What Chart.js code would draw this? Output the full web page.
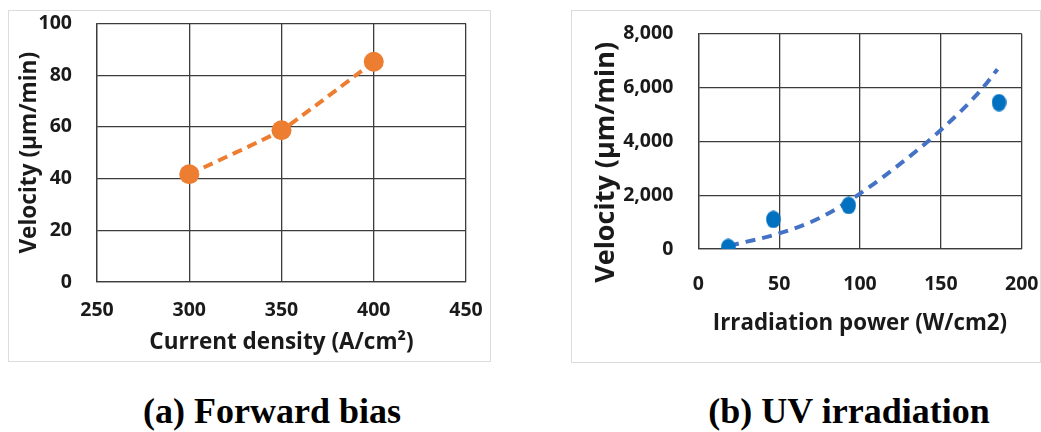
<!DOCTYPE html>
<html>
<head>
<meta charset="utf-8">
<script src="https://cdn.jsdelivr.net/npm/chart.js@4"></script>
<style>
body { margin:0; width:1041px; height:432px; background:#fff; position:relative; overflow:hidden; }
.box { position:absolute; border:1px solid #dcdcdc; box-sizing:border-box; }
.wrap { position:absolute; }
.cap { position:absolute; width:400px; text-align:center; font:bold 36px "Liberation Serif","Times New Roman",serif; line-height:36px; color:#000; }
</style>
</head>
<body>
<div class="box" style="left:8px;top:10px;width:483px;height:352px"></div>
<div class="box" style="left:571px;top:10px;width:470px;height:353px"></div>
<div class="wrap" style="left:0;top:0;width:520px;height:370px"><canvas id="chartA"></canvas></div>
<div class="wrap" style="left:560px;top:0;width:481px;height:370px"><canvas id="chartB"></canvas></div>
<div class="cap" style="left:72px;top:393px">(a) Forward bias</div>
<div class="cap" style="left:649px;top:393px">(b) UV irradiation</div>
<script>
// (a) forward bias
var currentDensity = [300, 350, 400];
var velocityA = [41.7, 58.7, 85.2];
var xTicksA = [250, 300, 350, 400, 450];
var yTicksA = [0, 20, 40, 60, 80, 100];

// (b) UV irradiation
var irradiationPower = [18.5, 46.4, 93, 186];
var velocityB = [60, 1100, 1620, 5440];
// trendline
var trendPower = [19, 50, 75, 100, 125, 150, 175, 185];
var trendVelocity = [120, 580, 1150, 2060, 3170, 4420, 5920, 6680];
var xTicksB = [0, 50, 100, 150, 200];
var yTicksB = [0, 2000, 4000, 6000, 8000];

var gridColor = '#3c3c3c';
var textColor = '#1a1a1a';
var fam = '"Open Sans", sans-serif';

function toXY(xs, ys) {
    return xs.map(function(x, i) { return {x: x, y: ys[i]}; });
}

function axis(ticks, opts) {
    return {
        type: 'linear',
        min: ticks[0],
        max: ticks[ticks.length - 1],
        afterBuildTicks: function(a) { a.ticks = ticks.map(function(v) { return {value: v}; }); },
        afterFit: function(a) {
            // fixed axis sizes so the plot box lands where it should
            if (a.isHorizontal()) a.height = opts.size; else a.width = opts.size;
            a.paddingLeft = a.paddingRight = a.paddingTop = a.paddingBottom = 0;
        },
        grid: { color: gridColor, lineWidth: 1.3, drawTicks: false },
        border: { display: true, color: gridColor, width: 1.3 },
        ticks: {
            color: textColor,
            padding: opts.pad,
            font: { family: fam, weight: 'bold', size: 19.5 },
            callback: function(v) { return opts.comma ? v.toLocaleString('en-US') : v; }
        },
        title: {
            display: true,
            text: opts.title,
            color: textColor,
            padding: opts.titlePad,
            font: { family: fam, weight: 'bold', size: opts.titleSize }
        }
    };
}

// slightly tall ellipse marker for chart (b)
var dot = document.createElement('canvas');
dot.width = 15; dot.height = 18;
var dctx = dot.getContext('2d');
dctx.fillStyle = '#0070c0';
dctx.beginPath();
dctx.ellipse(7.5, 9, 7.3, 8.8, 0, 0, Math.PI * 2);
dctx.fill();

new Chart(document.getElementById('chartA'), {
    type: 'scatter',
    data: {
        datasets: [{
            data: toXY(currentDensity, velocityA),
            showLine: true,
            borderColor: '#ed7d31',
            borderWidth: 4,
            borderDash: [10, 6],
            tension: 0.12,
            backgroundColor: '#ed7d31',
            pointRadius: 10,
            pointBorderWidth: 0
        }]
    },
    options: {
        responsive: true,
        maintainAspectRatio: false,
        animation: false,
        layout: { padding: { left: 0, top: 23.5, right: 54, bottom: 14 } },
        plugins: { legend: { display: false }, tooltip: { enabled: false } },
        scales: {
            x: axis(xTicksA, { size: 74, pad: 17, title: 'Current density (A/cm²)', titleSize: 22.5, titlePad: 0 }),
            y: axis(yTicksA, { size: 97, pad: 25, title: 'Velocity (µm/min)', titleSize: 22.6, titlePad: { top: 16 } })
        }
    }
});

new Chart(document.getElementById('chartB'), {
    type: 'scatter',
    data: {
        datasets: [{
            data: toXY(irradiationPower, velocityB),
            pointStyle: dot,
            pointRadius: 9
        }, {
            data: toXY(trendPower, trendVelocity),
            showLine: true,
            borderColor: '#4472c4',
            borderWidth: 4,
            borderDash: [10, 7],
            cubicInterpolationMode: 'monotone',
            pointRadius: 0
        }]
    },
    options: {
        responsive: true,
        maintainAspectRatio: false,
        animation: false,
        layout: { padding: { left: 0, top: 33.7, right: 19.3, bottom: 33.3 } },
        plugins: { legend: { display: false }, tooltip: { enabled: false } },
        scales: {
            x: axis(xTicksB, { size: 87.7, pad: 24, title: 'Irradiation power (W/cm2)', titleSize: 22.3, titlePad: 0 }),
            y: axis(yTicksB, { size: 138.3, pad: 25, comma: true, title: 'Velocity (µm/min)      ', titleSize: 27, titlePad: { top: 30.5 } })
        }
    }
});
</script>
</body>
</html>
